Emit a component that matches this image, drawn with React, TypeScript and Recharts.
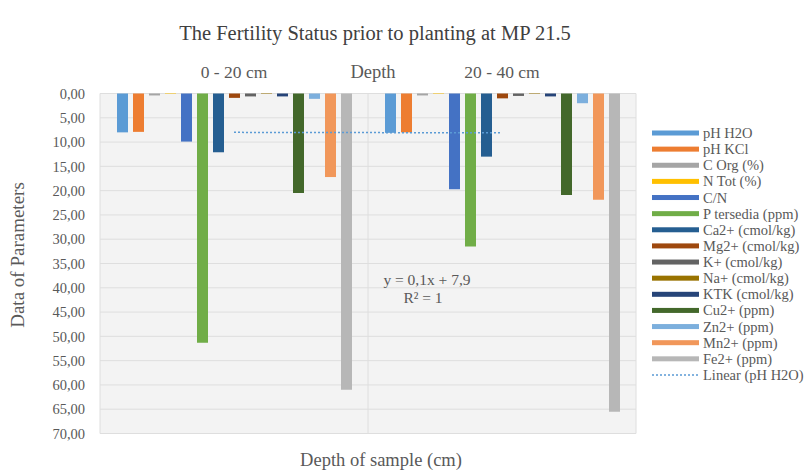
import React from 'react';
import { ComposedChart, Bar, Line, XAxis, YAxis, CartesianGrid } from 'recharts';

// sample depths (categories)
const depths = ['0 - 20 cm', '20 - 40 cm'];

// values per parameter, one per depth
const phH2O = [8.0, 8.1];
const phKCl = [7.9, 8.0];
const cOrg = [0.4, 0.4];
const nTot = [0.1, 0.1];
const cn = [9.9, 19.7];
const pTersedia = [51.3, 31.5];
const ca = [12.1, 13.0];
const mg = [0.9, 1.0];
const k = [0.6, 0.5];
const na = [0.1, 0.1];
const ktk = [0.6, 0.6];
const cu = [20.5, 20.9];
const zn = [1.1, 2.0];
const mn = [17.2, 21.9];
const fe = [61.0, 65.5];

// linear trend of pH H2O (y = 0,1x + 7,9)
const linearPhH2O = [8.0, 8.1];

const yTicks = [0, 5, 10, 15, 20, 25, 30, 35, 40, 45, 50, 55, 60, 65, 70];

const series = [
  { key: 'phH2O', name: 'pH H2O', color: '#5B9BD5', values: phH2O },
  { key: 'phKCl', name: 'pH KCl', color: '#ED7D31', values: phKCl },
  { key: 'cOrg', name: 'C Org (%)', color: '#A5A5A5', values: cOrg },
  { key: 'nTot', name: 'N Tot (%)', color: '#FFC000', values: nTot },
  { key: 'cn', name: 'C/N', color: '#4472C4', values: cn },
  { key: 'p', name: 'P tersedia (ppm)', color: '#70AD47', values: pTersedia },
  { key: 'ca', name: 'Ca2+ (cmol/kg)', color: '#255E91', values: ca },
  { key: 'mg', name: 'Mg2+ (cmol/kg)', color: '#9E480E', values: mg },
  { key: 'k', name: 'K+ (cmol/kg)', color: '#636363', values: k },
  { key: 'na', name: 'Na+ (cmol/kg)', color: '#997300', values: na },
  { key: 'ktk', name: 'KTK (cmol/kg)', color: '#264478', values: ktk },
  { key: 'cu', name: 'Cu2+ (ppm)', color: '#43682B', values: cu },
  { key: 'zn', name: 'Zn2+ (ppm)', color: '#7CAFDD', values: zn },
  { key: 'mn', name: 'Mn2+ (ppm)', color: '#F1975A', values: mn },
  { key: 'fe', name: 'Fe2+ (ppm)', color: '#B7B7B7', values: fe },
];

const data = depths.map((depth, i) => {
  const row: Record<string, string | number> = { depth, linear: linearPhH2O[i] };
  series.forEach((s) => {
    row[s.key] = s.values[i];
  });
  return row;
});

const FONT = '"Liberation Serif", "Times New Roman", serif';
const TEXT = '#595959';

const fmt = (v: number) => v.toFixed(2).replace('.', ',');

function Overlay() {
  const legendTop = 133;
  const legendStep = 16.13;
  return (
    <svg
      width={809}
      height={471}
      style={{ position: 'absolute', left: 0, top: 0, pointerEvents: 'none' }}
      fontFamily={FONT}
    >
      <text x={375} y={40} textAnchor="middle" fontSize={20.5} fill="#404040">
        The Fertility Status prior to planting at MP 21.5
      </text>
      <text x={373} y={78} textAnchor="middle" fontSize={18.5} fill={TEXT}>
        Depth
      </text>
      <text x={427} y={285} textAnchor="middle" fontSize={15.5} fill={TEXT}>
        y = 0,1x + 7,9
      </text>
      <text x={423} y={303} textAnchor="middle" fontSize={15.5} fill={TEXT}>
        R² = 1
      </text>
      <text
        transform="translate(17,255) rotate(-90)"
        textAnchor="middle"
        dominantBaseline="central"
        fontSize={19}
        fill={TEXT}
      >
        Data of Parameters
      </text>
      <text x={381} y={466} textAnchor="middle" fontSize={18.5} fill={TEXT}>
        Depth of sample (cm)
      </text>
      {series.map((s, i) => {
        const cy = legendTop + i * legendStep;
        return (
          <g key={s.key}>
            <rect x={652} y={cy - 2.5} width={47} height={5} fill={s.color} />
            <text x={703} y={cy + 5} fontSize={14.5} fill={TEXT}>
              {s.name}
            </text>
          </g>
        );
      })}
      <line
        x1={652}
        x2={699}
        y1={legendTop + series.length * legendStep}
        y2={legendTop + series.length * legendStep}
        stroke="#5B9BD5"
        strokeWidth={1.5}
        strokeDasharray="2 2"
      />
      <text
        x={703}
        y={legendTop + series.length * legendStep + 5}
        fontSize={14.5}
        fill={TEXT}
      >
        Linear (pH H2O)
      </text>
    </svg>
  );
}

export default function App() {
  return (
    <div style={{ position: 'absolute', left: 0, top: 0, width: 809, height: 471, background: '#fff' }}>
      <ComposedChart
        width={809}
        height={471}
        data={data}
        margin={{ top: 63.5, right: 173, bottom: 37.5, left: 0 }}
        barGap={5}
      >
        <CartesianGrid
          stroke="#DEDEDE"
          fill="#F3F3F3"
          verticalCoordinatesGenerator={({ offset }: any) => [
            offset.left,
            offset.left + offset.width / 2,
            offset.left + offset.width,
          ]}
        />
        <XAxis
          dataKey="depth"
          orientation="top"
          height={30}
          tickLine={false}
          axisLine={false}
          interval={0}
          tickMargin={9.5}
          tick={{ fill: TEXT, fontSize: 17.5, fontFamily: FONT }}
        />
        <YAxis
          type="number"
          domain={[0, 70]}
          ticks={yTicks}
          reversed
          width={100}
          tickLine={false}
          axisLine={false}
          tickMargin={9}
          tickFormatter={fmt}
          tick={{ fill: TEXT, fontSize: 14.5, fontFamily: FONT }}
        />
        {series.map((s) => (
          <Bar
            key={s.key}
            dataKey={s.key}
            name={s.name}
            fill={s.color}
            barSize={11}
            isAnimationActive={false}
          />
        ))}
        <Line
          type="linear"
          dataKey="linear"
          name="Linear (pH H2O)"
          stroke="#5B9BD5"
          strokeWidth={1.5}
          strokeDasharray="2 2"
          dot={false}
          activeDot={false}
          isAnimationActive={false}
        />
      </ComposedChart>
      <Overlay />
    </div>
  );
}
